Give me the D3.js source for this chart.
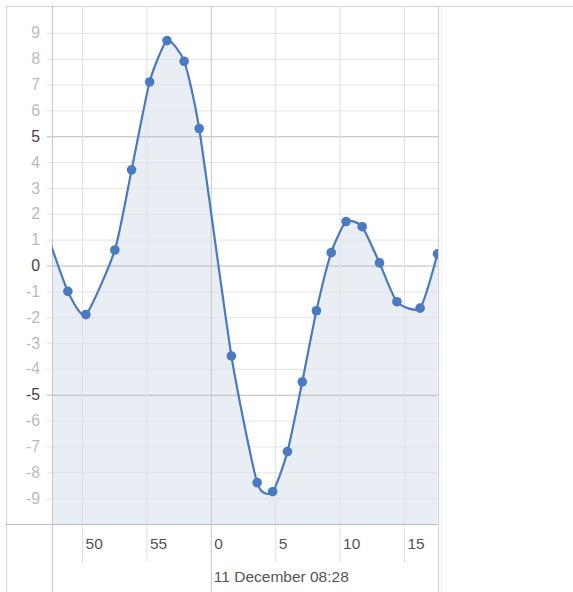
<!DOCTYPE html>
<html>
<head>
<meta charset="utf-8">
<script src="https://cdn.jsdelivr.net/npm/d3@7"></script>
<style>
  html, body { margin: 0; padding: 0; background: #fff; }
  svg { display: block; }
  text { font-family: "Liberation Sans", Arial, sans-serif; }
</style>
</head>
<body>
<svg id="chart" width="573" height="592"></svg>
<script>
// seconds relative to 11 December 08:28:00
const seconds = [-12.9, -11.1, -9.7, -7.45, -6.15, -4.75, -3.4, -2.07, -0.9, 1.6, 3.6, 4.8, 5.95, 7.1, 8.2, 9.35, 10.5, 11.75, 13.1, 14.45, 16.25, 17.6];
const values  = [1.5, -1.0, -1.9, 0.6, 3.7, 7.1, 8.7, 7.9, 5.3, -3.5, -8.4, -8.75, -7.2, -4.5, -1.75, 0.5, 1.7, 1.5, 0.1, -1.4, -1.65, 0.45];
const xDomain = [-12.33, 17.64];
const yDomain = [-10, 10];
const yTicks = [-9, -8, -7, -6, -5, -4, -3, -2, -1, 0, 1, 2, 3, 4, 5, 6, 7, 8, 9];
const yMajor = [-5, 0, 5];
const xTicks = [-10, -5, 0, 5, 10, 15];
const xTickLabels = ["50", "55", "0", "5", "10", "15"];
const minuteLabel = "11 December 08:28";

const data = seconds.map((s, i) => ({ s, v: values[i] }));

const svg = d3.select("#chart");
const L = 52, R = 438, T = 7, B = 524;
const x = d3.scaleLinear().domain(xDomain).range([L, R]);
const y = d3.scaleLinear().domain(yDomain).range([B, T]);
const curve = d3.curveCardinal.tension(0.4);

svg.append("defs").append("clipPath").attr("id", "clip")
  .append("rect").attr("x", L).attr("y", T).attr("width", R - L).attr("height", B - T);

// outer frame
svg.append("line").attr("x1", 6).attr("x2", 573).attr("y1", 6.5).attr("y2", 6.5).attr("stroke", "#d4d4d4");
svg.append("line").attr("x1", 6.5).attr("x2", 6.5).attr("y1", 6).attr("y2", 592).attr("stroke", "#d4d4d4");

const plot = svg.append("g");

// area fill
const area = d3.area().x(d => x(d.s)).y0(y(yDomain[0])).y1(d => y(d.v)).curve(curve);
plot.append("path").datum(data).attr("clip-path", "url(#clip)")
  .attr("d", area).attr("fill", "#e9eef5");

// horizontal grid
const yAxis = d3.axisLeft(y).tickValues(yTicks).tickSize(-(R - L + 5)).tickPadding(12).tickFormat(d3.format("d"));
const gy = svg.append("g").attr("transform", `translate(${L - 5},0)`).call(yAxis);
gy.select(".domain").remove();
gy.selectAll(".tick line")
  .attr("x1", 0).attr("x2", R - L + 5)
  .attr("stroke", d => yMajor.includes(d) ? "#b8b8b8" : "#e3e3e3");
gy.selectAll(".tick text")
  .attr("x", -7)
  .style("font-size", "15.8px")
  .attr("fill", d => yMajor.includes(d) ? "#444" : "#bbbbbb")
  .text(d => String(d).replace("\u2212", "-"));

// vertical grid + x ticks
const xAxis = d3.axisBottom(x).tickValues(xTicks).tickSize(0).tickFormat((d, i) => xTickLabels[i]);
const gx = svg.append("g").attr("transform", `translate(0,${T})`).call(xAxis);
gx.select(".domain").remove();
gx.selectAll(".tick line")
  .attr("y1", -1).attr("y2", d => d === 0 ? 592 - T : 562 - T)
  .attr("stroke", d => d === 0 ? "#c8c8c8" : "#e0e0e0");
gx.selectAll(".tick text")
  .attr("text-anchor", "start").attr("x", 3).attr("y", 549 - T).attr("dy", 0)
  .style("font-size", "15.5px").attr("fill", "#555");

svg.append("text").attr("x", x(0) + 3).attr("y", 582)
  .style("font-size", "15.5px").attr("fill", "#555").text(minuteLabel);

// axis frame lines
svg.append("line").attr("x1", L + 0.5).attr("x2", L + 0.5).attr("y1", 6).attr("y2", 592).attr("stroke", "#c8c8c8");
svg.append("line").attr("x1", R + 0.5).attr("x2", R + 0.5).attr("y1", 6).attr("y2", 592).attr("stroke", "#cfcfcf");
svg.append("line").attr("x1", R + 3.5).attr("x2", R + 3.5).attr("y1", 8).attr("y2", 592).attr("stroke", "#f0f0f0");
svg.append("line").attr("x1", 6).attr("x2", R).attr("y1", B + 0.5).attr("y2", B + 0.5).attr("stroke", "#bdbdbd");

// line
const line = d3.line().x(d => x(d.s)).y(d => y(d.v)).curve(curve);
const series = svg.append("g").attr("clip-path", "url(#clip)");
series.append("path").datum(data).attr("d", line)
  .attr("fill", "none").attr("stroke", "#4a7abf").attr("stroke-width", 2.2);
series.selectAll("circle").data(data).join("circle")
  .attr("cx", d => x(d.s)).attr("cy", d => y(d.v)).attr("r", 4.8)
  .attr("fill", "#4a7abf");
</script>
</body>
</html>
